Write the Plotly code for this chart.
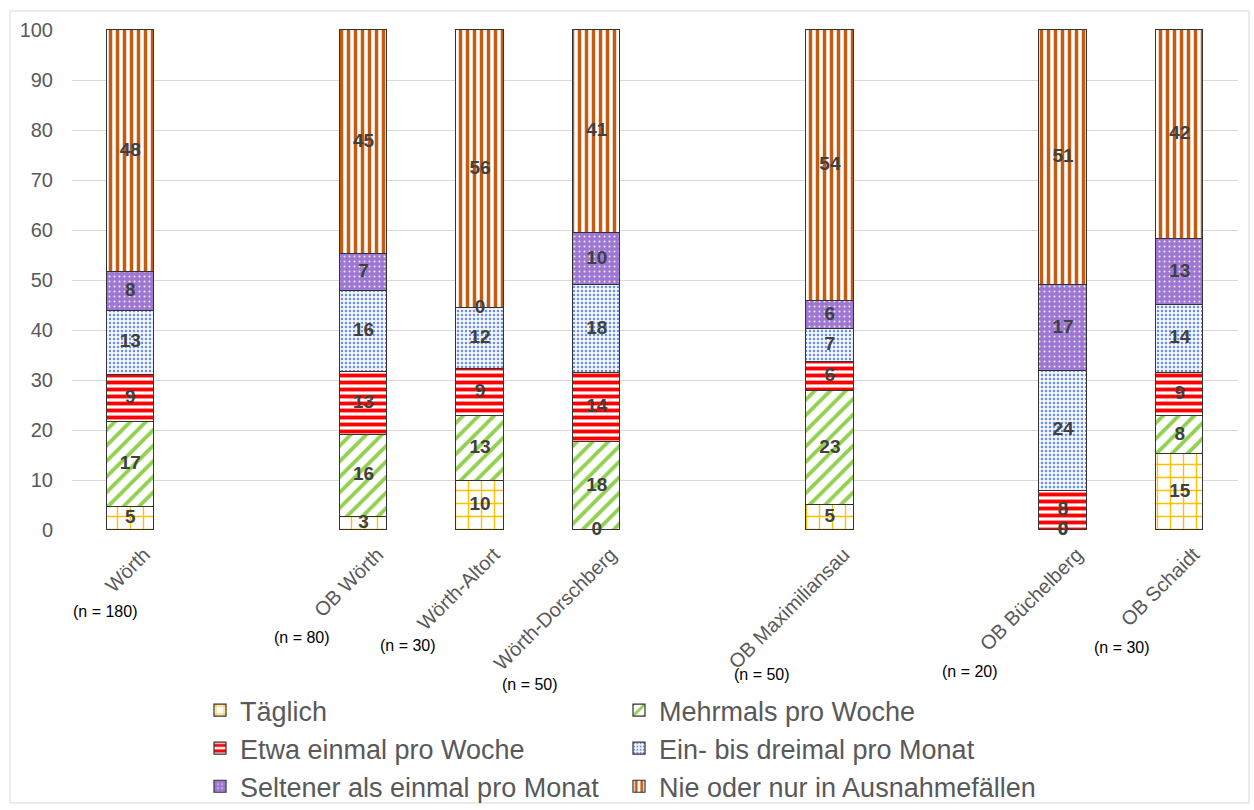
import plotly.graph_objects as go

# Places (x categories) and their sample sizes
places = ["Wörth", "OB Wörth", "Wörth-Altort", "Wörth-Dorschberg",
          "OB Maximiliansau", "OB Büchelberg", "OB Schaidt"]
sample_sizes = ["(n = 180)", "(n = 80)", "(n = 30)", "(n = 50)",
                "(n = 50)", "(n = 20)", "(n = 30)"]
# slot index of each place on the x axis (gaps separate the groups)
slots = [0, 2, 3, 4, 6, 8, 9]

series_names = ["Täglich", "Mehrmals pro Woche", "Etwa einmal pro Woche",
                "Ein- bis dreimal pro Monat", "Seltener als einmal pro Monat",
                "Nie oder nur in Ausnahmefällen"]

# shares in percent, stacked bottom to top
taeglich = [4.7, 2.7, 9.9, 0.0, 5.0, 0.0, 15.2]
mehrmals = [17.0, 16.4, 13.0, 17.6, 22.9, 0.0, 7.7]
etwa_woechentlich = [9.4, 12.6, 9.4, 13.8, 5.7, 7.9, 8.6]
ein_bis_dreimal = [12.8, 16.2, 12.1, 17.6, 6.6, 24.0, 13.6]
seltener = [7.8, 7.4, 0.0, 10.4, 5.6, 17.1, 13.1]
nie = [48.3, 44.7, 55.6, 40.6, 54.2, 51.0, 41.8]

y_ticks = [0, 10, 20, 30, 40, 50, 60, 70, 80, 90, 100]

series_values = [taeglich, mehrmals, etwa_woechentlich, ein_bis_dreimal, seltener, nie]

patterns = [
    dict(shape="+", fgcolor="#FFC000", bgcolor="white", size=13, solidity=0.2, fillmode="replace"),
    dict(shape="/", fgcolor="#92D050", bgcolor="white", size=11, solidity=0.35, fillmode="replace"),
    dict(shape="-", fgcolor="#FF0000", bgcolor="white", size=7, solidity=0.55, fillmode="replace"),
    dict(shape=".", fgcolor="#6A8FDA", bgcolor="#F3F6FC", size=4, solidity=0.3, fillmode="replace"),
    dict(shape=".", fgcolor="#F4EEFB", bgcolor="#9D77D1", size=5, solidity=0.12, fillmode="replace"),
    dict(shape="|", fgcolor="#C55A11", bgcolor="white", size=7, solidity=0.5, fillmode="replace"),
]
base_colors = ["#FFC000", "#92D050", "#FF0000", "#5B84D6", "#9D77D1", "#C55A11"]

W, H = 1254, 810
L, R, T, B = 72, 16, 29, 280
PW, PH = W - L - R, H - T - B


def px(x):
    return (x - L) / PW


def py(y):
    return (H - B - y) / PH


fig = go.Figure()

for name, vals, pat, col in zip(series_names, series_values, patterns, base_colors):
    fig.add_trace(go.Bar(
        name=name, x=slots, y=vals, width=0.405,
        marker=dict(color=col, pattern=pat, line=dict(color="#333333", width=1.2)),
        hoverinfo="skip",
    ))

# value labels centred in each stacked segment
lab_x, lab_y, lab_t = [], [], []
bases = [0.0] * len(slots)
for vals in series_values:
    for i, v in enumerate(vals):
        lab_x.append(slots[i])
        lab_y.append(bases[i] + v / 2)
        lab_t.append(f"{v:.0f}")
        bases[i] += v
fig.add_trace(go.Scatter(
    x=lab_x, y=lab_y, text=lab_t, mode="text", showlegend=False,
    textfont=dict(family="Liberation Sans, Arial, sans-serif", size=19, color="#404040", weight="bold"),
    hoverinfo="skip", cliponaxis=False,
))

# sample size notes under the rotated category labels
n_pos = [(105, 611), (302, 637), (408, 645), (530, 684), (762, 675), (970, 671), (1122, 647)]
annotations = []
for txt, (ax, ay) in zip(sample_sizes, n_pos):
    annotations.append(dict(
        x=px(ax), y=py(ay), xref="paper", yref="paper", text=txt, showarrow=False,
        xanchor="center", yanchor="middle",
        font=dict(family="Liberation Sans Narrow, Arial Narrow, sans-serif", size=16, color="#000000"),
    ))

fig.update_layout(
    width=W, height=H,
    margin=dict(l=L, r=R, t=T, b=B, pad=0, autoexpand=False),
    paper_bgcolor="white", plot_bgcolor="white",
    barmode="stack", bargap=0,
    font=dict(family="Liberation Sans, Arial, sans-serif", color="#595959"),
    xaxis=dict(
        range=[-0.5, 9.5], tickmode="array", tickvals=slots, ticktext=places,
        tickangle=-45, tickfont=dict(size=20, color="#595959"),
        showgrid=False, zeroline=False, showline=False, ticks="",
        ticklabelstandoff=8, ticklabelshift=14, automargin=False,
    ),
    yaxis=dict(
        range=[0, 100.2], tickmode="array", tickvals=y_ticks,
        tickfont=dict(size=20, color="#595959"),
        showgrid=True, gridcolor="#D9D9D9", gridwidth=1,
        zeroline=False, showline=False, ticks="", ticklabelstandoff=18, automargin=False,
    ),
    legend=dict(
        orientation="h", xref="container", yref="container",
        x=200 / W, y=1 - 686 / H, xanchor="left", yanchor="top",
        font=dict(size=27, color="#595959"), entrywidth=374, traceorder="normal",
        bgcolor="rgba(0,0,0,0)",
    ),
    annotations=annotations,
    shapes=[dict(type="rect", xref="paper", yref="paper",
                 x0=px(10), x1=px(1249), y0=py(803), y1=py(11),
                 line=dict(color="#D9D9D9", width=1), layer="below")],
)

fig.write_html("out.html")
